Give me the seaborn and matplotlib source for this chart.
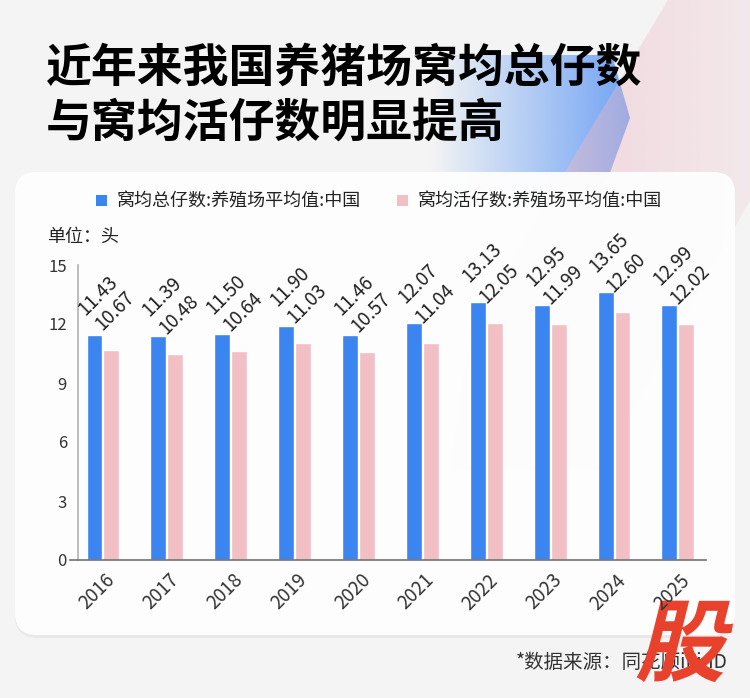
import numpy as np
import pandas as pd
import matplotlib
matplotlib.use("Agg")
import matplotlib.pyplot as plt
import seaborn as sns
from matplotlib.patches import FancyBboxPatch, Polygon, Rectangle, PathPatch
from matplotlib.textpath import TextPath
from matplotlib.font_manager import FontProperties
from matplotlib.transforms import Affine2D, ScaledTranslation

# ---- data ----
years = ["2016", "2017", "2018", "2019", "2020", "2021", "2022", "2023", "2024", "2025"]
total_per_litter = [11.43, 11.39, 11.50, 11.90, 11.46, 12.07, 13.13, 12.95, 13.65, 12.99]
live_per_litter = [10.67, 10.48, 10.64, 11.03, 10.57, 11.04, 12.05, 11.99, 12.60, 12.02]
series_names = ["窝均总仔数:养殖场平均值:中国", "窝均活仔数:养殖场平均值:中国"]
y_ticks = [0, 3, 6, 9, 12, 15]

title_lines = ["近年来我国养猪场窝均总仔数", "与窝均活仔数明显提高"]
unit_text = "单位：头"
source_text = "*数据来源：同花顺iFinD"
logo_text = "股"

colors = ["#3b85f1", "#f2bfc5"]

df = pd.DataFrame({
    "年份": years * 2,
    "数值": total_per_litter + live_per_litter,
    "系列": [series_names[0]] * len(years) + [series_names[1]] * len(years),
})

sns.set_theme(style="white")
plt.rcParams["font.family"] = ["Noto Sans CJK SC", "DejaVu Sans"]

fig = plt.figure(figsize=(7.5, 6.98), dpi=100, facecolor="#f4f4f4")

# background layer in pixel coordinates (y grows downward)
bg = fig.add_axes([0, 0, 1, 1], zorder=0)
bg.set_xlim(0, 750)
bg.set_ylim(698, 0)
bg.set_autoscale_on(False)
bg.axis("off")


def gradient_shape(verts, rgb, a0, a1, z):
    poly = Polygon(verts, closed=True, fc="none", ec="none")
    bg.add_patch(poly)
    xs = [v[0] for v in verts]
    ys = [v[1] for v in verts]
    img = np.zeros((1, 256, 4))
    img[..., :3] = matplotlib.colors.to_rgb(rgb)
    img[..., 3] = np.linspace(a0, a1, 256)
    im = bg.imshow(img, extent=(min(xs), max(xs), max(ys), min(ys)),
                   aspect="auto", interpolation="bilinear", zorder=z)
    im.set_clip_path(poly)


# decorative shapes behind the title
gradient_shape([(430, 55), (612, 55), (630, 118), (600, 200), (430, 200)],
               "#6a9ff4", 0.0, 0.95, 1.0)
gradient_shape([(668, 0), (750, 0), (750, 200), (600, 470), (450, 470), (470, 330)],
               "#eeb9c4", 0.65, 0.2, 1.2)

# white card with faint shadow
bg.add_patch(FancyBboxPatch((15, 175), 720, 463, boxstyle="round,pad=0,rounding_size=22",
                            fc="#e3e3e3", ec="none", alpha=0.6, zorder=2))
bg.add_patch(FancyBboxPatch((15, 172), 720, 463, boxstyle="round,pad=0,rounding_size=22",
                            fc="white", ec="none", alpha=0.93, zorder=3))

# title
bg.text(46, 69, title_lines[0], fontsize=33, fontweight=900, va="center", color="black", zorder=5)
bg.text(46, 124, title_lines[1], fontsize=33, fontweight=900, va="center", color="black", zorder=5)

# legend
for i, (name, c) in enumerate(zip(series_names, colors)):
    x0 = 96 + i * 301
    bg.add_patch(Rectangle((x0, 195), 11, 11, fc=c, ec="none", zorder=5))
    bg.text(x0 + 21, 201, name, fontsize=13, va="center", color="#222222", zorder=5)

bg.text(47, 237, unit_text, fontsize=13, va="center", color="#222222", zorder=5)
bg.text(728, 662, source_text, fontsize=14, ha="right", va="center", color="#333333", zorder=5)

# logo
tp = TextPath((0, 0), logo_text, size=90,
              prop=FontProperties(family="Noto Sans CJK SC", weight=900))
tr = Affine2D().skew_deg(14, 0).scale(1, -1).translate(635, 674)
bg.add_patch(PathPatch(tr.transform_path(tp), fc="#e8412c", ec="none", zorder=10))

# ---- main chart ----
ax = fig.add_axes([70 / 750, 1 - 560 / 698, 636 / 750, 295 / 698], zorder=4)
ax.patch.set_alpha(0)

sns.barplot(data=df, x="年份", y="数值", hue="系列", palette=colors, saturation=1,
            width=0.53, gap=0.06, legend=False, ax=ax)

for cont in ax.containers:
    for patch in cont:
        h = patch.get_height()
        ax.annotate(f"{h:.2f}", (patch.get_x(), h), xytext=(2, 11), textcoords="offset points",
                    rotation=45, rotation_mode="anchor", ha="left", va="bottom",
                    fontsize=13.5, color="#222222")

ax.set_xlim(-0.516, 9.44)
ax.set_ylim(0, 15)
ax.set_yticks(y_ticks)
ax.set_xlabel("")
ax.set_ylabel("")

sns.despine(ax=ax)
ax.spines["left"].set_position(("data", -0.39))
ax.spines["left"].set_color("#b5b5b5")
ax.spines["bottom"].set_color("#777777")
ax.tick_params(axis="both", length=0, colors="#333333")
ax.tick_params(axis="y", labelsize=12, pad=8)
ax.tick_params(axis="x", labelsize=13.5, pad=7)
for lab in ax.get_xticklabels():
    lab.set_rotation(45)
    lab.set_ha("right")
    lab.set_rotation_mode("anchor")
    lab.set_transform(lab.get_transform() + ScaledTranslation(1 / 72, 0, fig.dpi_scale_trans))

fig.savefig("out.png", dpi=100, facecolor=fig.get_facecolor())
